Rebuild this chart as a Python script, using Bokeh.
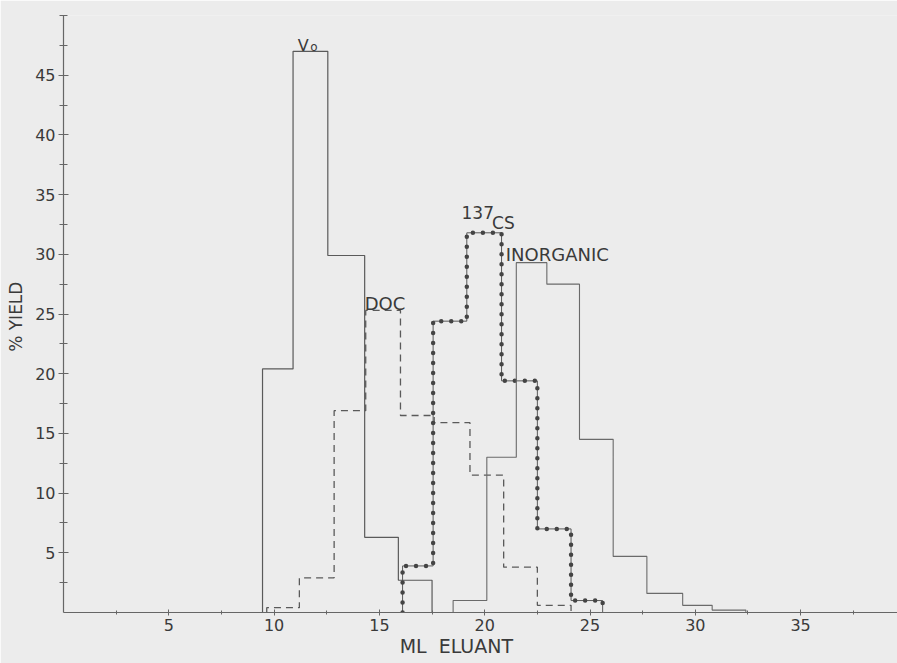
import numpy as np
from bokeh.plotting import figure
from bokeh.models import Range1d, FixedTicker
from bokeh.embed import file_html
from bokeh.resources import INLINE
from bokeh.core.properties import value

# ---- data (ml eluant bin edges, % yield per bin) ----
vo_edges = [9.45, 10.9, 12.55, 14.3, 15.9, 17.5]
vo_yield = [20.4, 47.0, 29.9, 6.3, 2.7]

doc_edges = [9.65, 11.2, 12.85, 14.35, 16.0, 17.6, 19.3, 20.9, 22.5, 24.1]
doc_yield = [0.4, 2.9, 16.9, 25.3, 16.5, 15.9, 11.5, 3.8, 0.6]

cs_edges = [16.1, 17.55, 19.15, 20.8, 22.5, 24.1, 25.6]
cs_yield = [3.9, 24.4, 31.8, 19.4, 7.0, 1.0]

inorg_edges = [18.5, 20.1, 21.5, 22.95, 24.5, 26.1, 27.7, 29.4, 30.8, 32.4]
inorg_yield = [1.0, 13.0, 29.3, 27.5, 14.5, 4.7, 1.6, 0.6, 0.2]

x_ticks = [5, 10, 15, 20, 25, 30, 35]
x_minor = [2.5, 7.5, 12.5, 17.5, 22.5, 27.5, 32.5, 37.5]
y_ticks = [5, 10, 15, 20, 25, 30, 35, 40, 45]
y_minor = [2.5, 7.5, 12.5, 17.5, 22.5, 27.5, 32.5, 37.5, 42.5, 47.5, 50]

BG = "#ececec"
INK = "#5a5a5a"
TXT = "#3a3a3a"
FONT = "DejaVu Sans"


def step_path(edges, vals):
    xs = np.repeat(np.asarray(edges, float), 2)
    ys = np.concatenate([[0.0], np.repeat(np.asarray(vals, float), 2), [0.0]])
    return xs, ys


p = figure(width=897, height=663, output_backend="svg", toolbar_location=None,
           x_range=Range1d(0, 39.6), y_range=Range1d(0, 50),
           min_border_left=63, min_border_right=0, min_border_top=15,
           min_border_bottom=51)
p.background_fill_color = BG
p.border_fill_color = BG
p.outline_line_color = None
p.xgrid.visible = False
p.ygrid.visible = False

# series
xs, ys = step_path(vo_edges, vo_yield)
p.line(xs, ys, line_color=INK, line_width=1.2)

xs, ys = step_path(doc_edges, doc_yield)
p.line(xs, ys, line_color=INK, line_width=1.3, line_dash="7 5")

xs, ys = step_path(cs_edges, cs_yield)
p.line(xs, ys, line_color=INK, line_width=1.0)
p.line(xs, ys, line_color="#444444", line_width=4.5, line_dash="0 10", line_cap="round")

xs, ys = step_path(inorg_edges, inorg_yield)
p.line(xs, ys, line_color="#6a6a6a", line_width=1.1)

# axes
for ax in (p.xaxis[0], p.yaxis[0]):
    ax.axis_line_color = "#666666"
    ax.axis_line_width = 1.2
    ax.major_tick_line_color = "#666666"
    ax.minor_tick_line_color = "#666666"
    ax.major_label_text_font = FONT
    ax.major_label_text_font_size = "16px"
    ax.major_label_text_color = TXT
    ax.axis_label_text_font = FONT
    ax.axis_label_text_font_style = "normal"
    ax.axis_label_text_color = TXT

p.xaxis.ticker = FixedTicker(ticks=x_ticks, minor_ticks=x_minor)
p.yaxis.ticker = FixedTicker(ticks=y_ticks, minor_ticks=y_minor)
p.xaxis.major_tick_in = 3
p.xaxis.major_tick_out = 3
p.xaxis.minor_tick_in = 2
p.xaxis.minor_tick_out = 2
p.xaxis.major_label_standoff = 3
p.yaxis.major_tick_in = 5
p.yaxis.major_tick_out = 5
p.yaxis.minor_tick_in = 4
p.yaxis.minor_tick_out = 4
p.yaxis.major_label_standoff = 3

p.yaxis.axis_label = "%  YIELD"
p.yaxis.axis_label_text_font_size = "17px"
p.yaxis.axis_label_standoff = 6

# x label, padded with no-break spaces so its centre sits left of the frame centre
p.xaxis.axis_label = "ML\u00a0\u00a0ELUANT" + "\u00a0" * 8
p.xaxis.axis_label_text_font_size = "19px"
p.xaxis.axis_label_standoff = 1

# annotations
p.text(x=[11.12], y=[47.5], text=["V"], text_font=value(FONT), text_font_size="16px",
       text_color=TXT, text_baseline="alphabetic")
p.text(x=[11.72], y=[47.35], text=["o"], text_font=value(FONT), text_font_size="12px",
       text_color=TXT, text_baseline="alphabetic")
p.text(x=[14.3], y=[25.9], text=["DOC"], text_font=value(FONT), text_font_size="18px",
       text_color=TXT, text_baseline="alphabetic")
p.text(x=[18.9], y=[33.5], text=["137"], text_font=value(FONT), text_font_size="17px",
       text_color=TXT, text_baseline="alphabetic")
p.text(x=[20.35], y=[32.6], text=["CS"], text_font=value(FONT), text_font_size="17px",
       text_color=TXT, text_baseline="alphabetic")
p.text(x=[21.0], y=[30.0], text=["INORGANIC"], text_font=value(FONT), text_font_size="18px",
       text_color=TXT, text_baseline="alphabetic")

open("out.html", "w").write(file_html(p, INLINE))
